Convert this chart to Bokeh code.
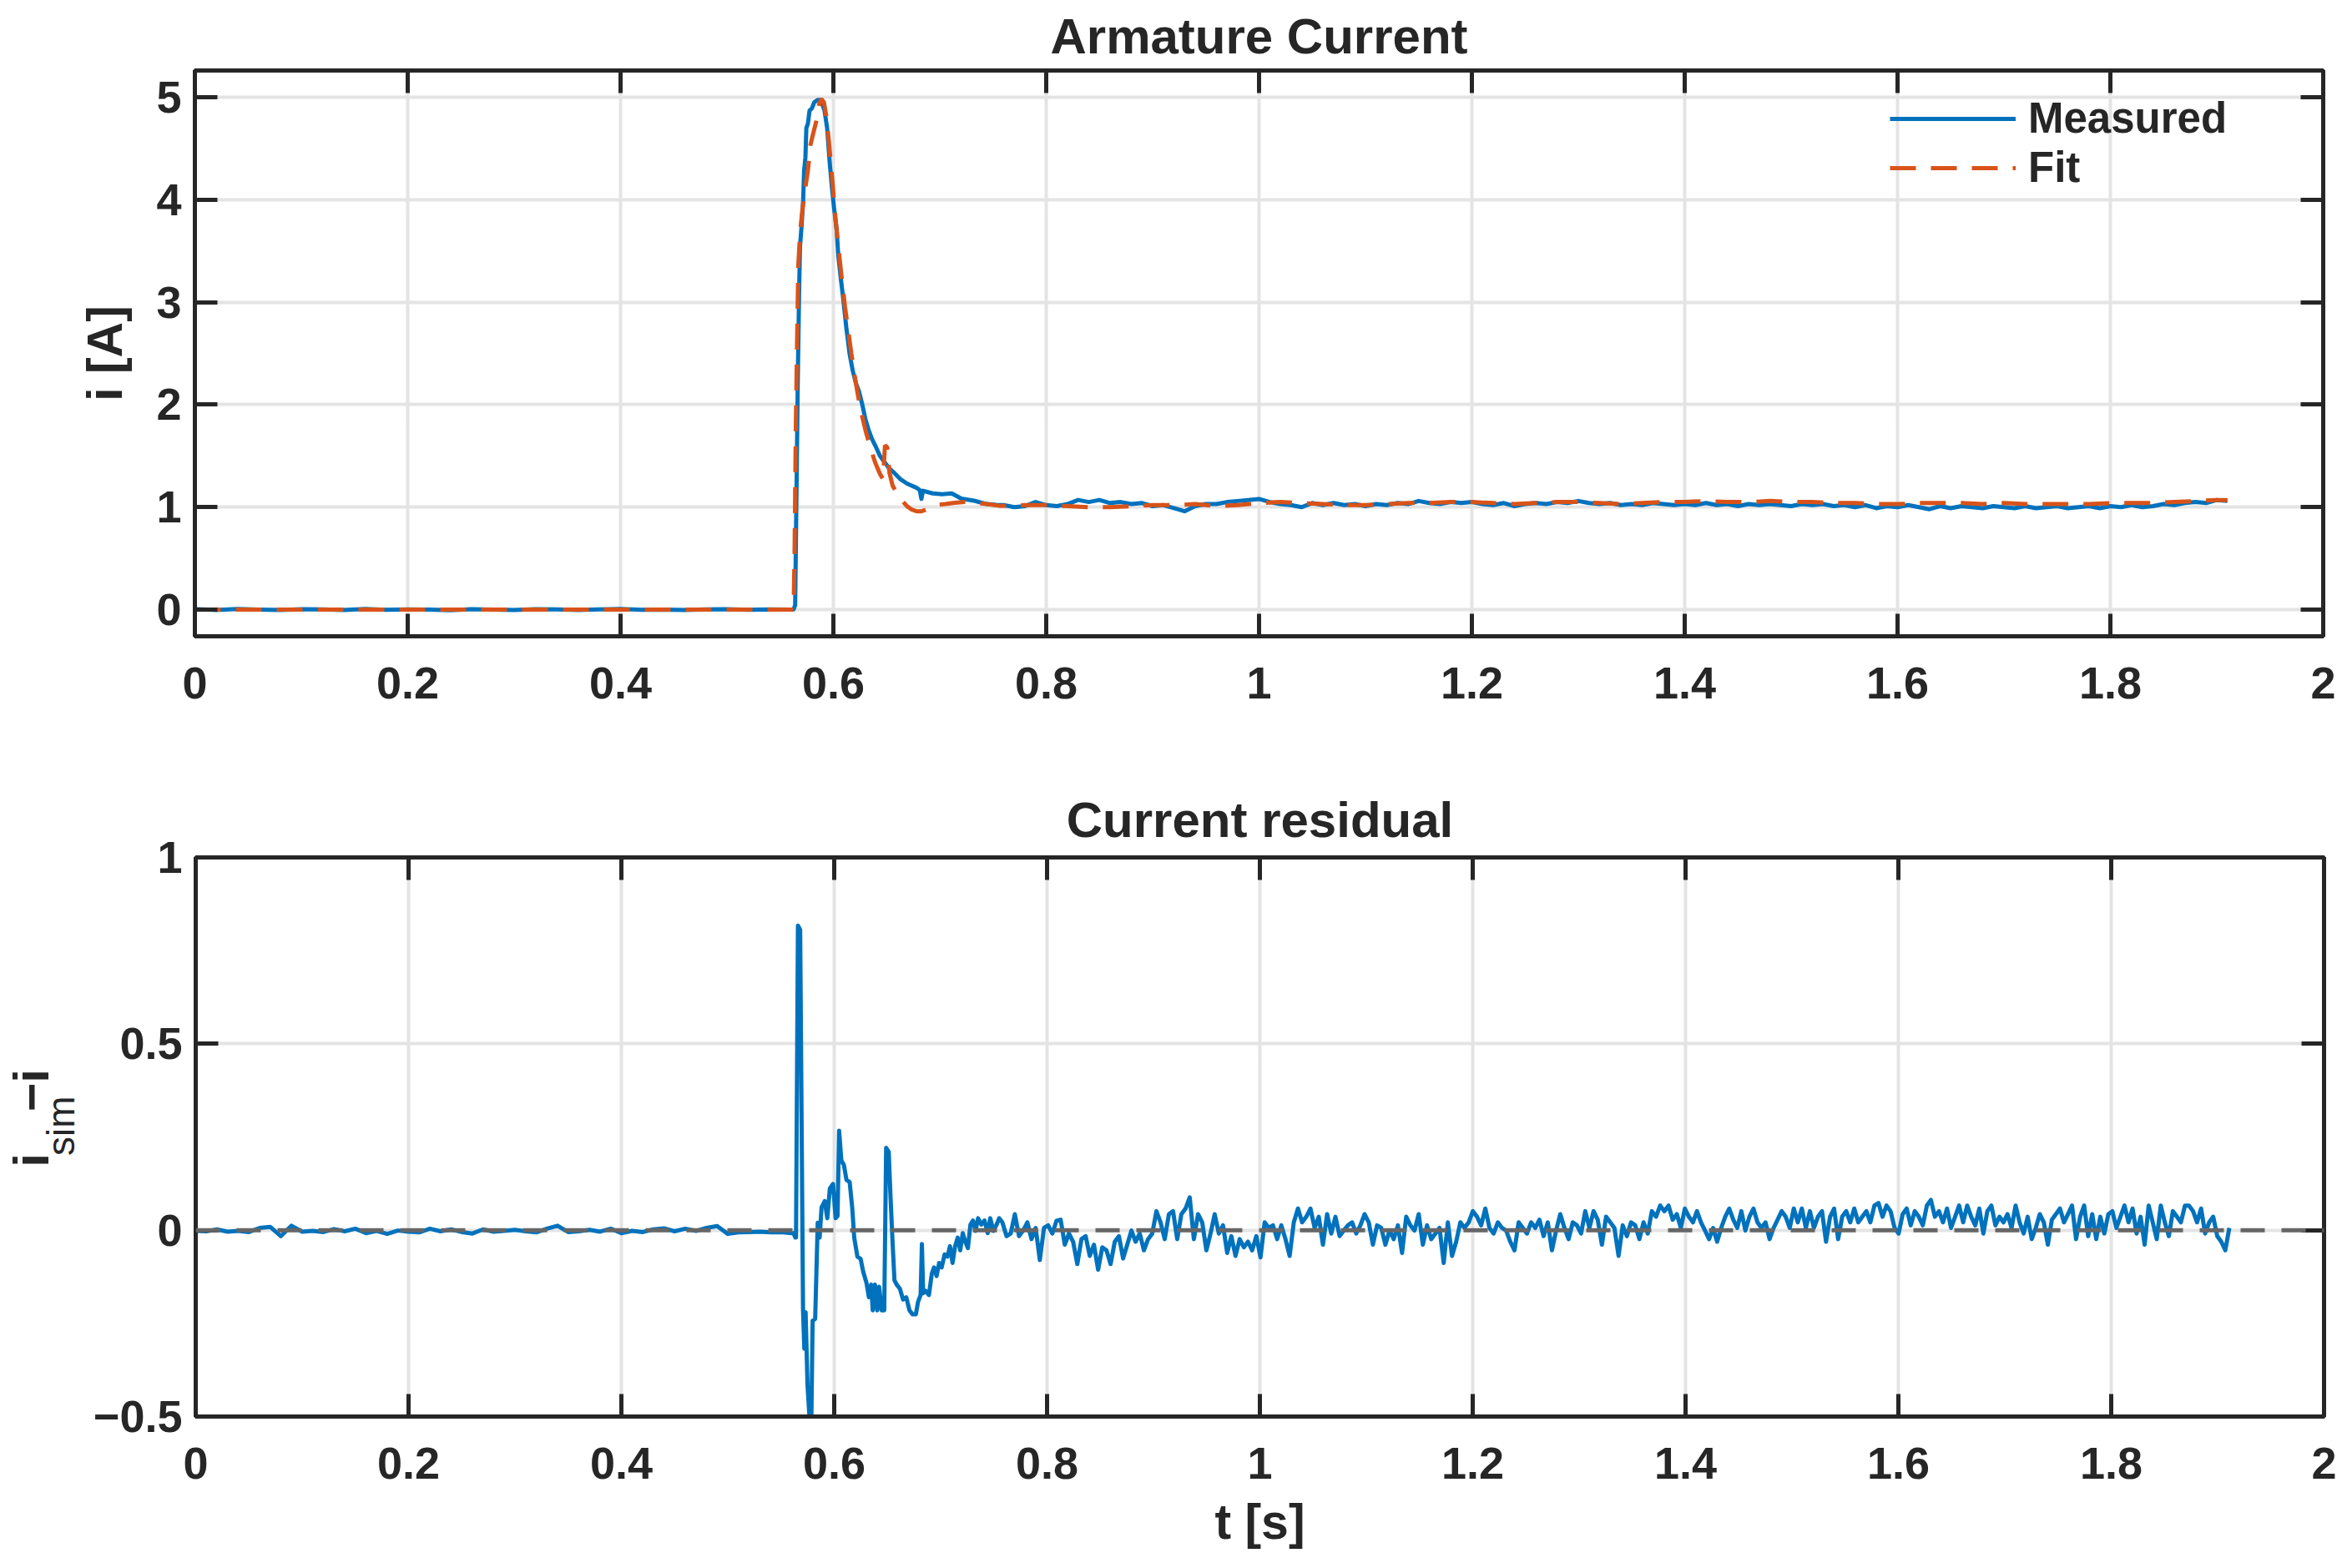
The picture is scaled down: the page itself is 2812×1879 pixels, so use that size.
import numpy as np
from math import pi
from bokeh.plotting import figure
from bokeh.models import (Range1d, FixedTicker, LinearAxis, Span, Legend,
                          LegendItem, CustomJSTickFormatter)
from bokeh.core.properties import value
from bokeh.layouts import column, row
from bokeh.embed import file_html
from bokeh.resources import INLINE

# ---------------- data ----------------
x_ticks = [0, 0.2, 0.4, 0.6, 0.8, 1.0, 1.2, 1.4, 1.6, 1.8, 2.0]
y_ticks_top = [0, 1, 2, 3, 4, 5]
y_ticks_bot = [-0.5, 0, 0.5, 1]

# measured armature current
t_meas_pre = np.round(np.arange(0, 0.561, 0.02), 3)
i_meas_pre = [0.004, -0.003, 0.006, 0.0, -0.004, 0.005, 0.002, -0.003, 0.007, -0.002,
              0.003, 0.0, -0.005, 0.004, 0.001, -0.003, 0.005, 0.002, -0.004, 0.003,
              0.006, -0.002, 0.001, -0.004, 0.003, 0.005, -0.001, 0.002, 0.0]
t_meas_tr = [0.5626, 0.5641, 0.5656, 0.5665, 0.5677, 0.5686, 0.5701, 0.5716, 0.5725, 0.5737,
             0.5746, 0.5761, 0.5776, 0.5797, 0.5821, 0.5851, 0.5875, 0.5896, 0.5917, 0.5941,
             0.5965, 0.5986, 0.6007, 0.6031, 0.6046, 0.6068, 0.6092, 0.6122, 0.6152, 0.6182,
             0.6212, 0.6242, 0.6272, 0.6302, 0.6332, 0.6362, 0.6392, 0.6437, 0.6482, 0.6527,
             0.6572, 0.6632, 0.6692, 0.6782, 0.6812, 0.6827, 0.6842, 0.6932, 0.7022, 0.7112,
             0.7202, 0.7322, 0.7442, 0.7532]
i_meas_tr = [0.003, 0.045, 1.375, 2.207, 3.038, 3.537, 3.745, 3.995, 4.286, 4.41,
             4.70, 4.743, 4.868, 4.889, 4.951, 4.972, 4.972, 4.93, 4.868, 4.70,
             4.369, 4.12, 3.912, 3.704, 3.454, 3.246, 3.038, 2.747, 2.498, 2.331,
             2.207, 2.124, 1.999, 1.853, 1.749, 1.666, 1.604, 1.50, 1.438, 1.375,
             1.334, 1.271, 1.230, 1.188, 1.167, 1.08, 1.16, 1.134, 1.126, 1.134,
             1.084, 1.063, 1.03, 1.022]
t_meas_ss = np.round(np.arange(0.76, 1.9101, 0.01), 2)
i_meas_ss = [1.02, 1.00, 1.01, 1.05, 1.02, 1.01, 1.03, 1.07, 1.05, 1.07,
             1.04, 1.05, 1.03, 1.04, 1.01, 1.02, 0.99, 0.96, 1.01, 1.03,
             1.03, 1.05, 1.06, 1.07, 1.08, 1.05, 1.03, 1.02, 1.00, 1.04,
             1.02, 1.04, 1.02, 1.03, 1.01, 1.03, 1.02, 1.04, 1.03, 1.06,
             1.04, 1.03, 1.05, 1.04, 1.05, 1.03, 1.02, 1.04, 1.01, 1.03,
             1.04, 1.03, 1.05, 1.04, 1.06, 1.04, 1.03, 1.04, 1.02, 1.03,
             1.02, 1.04, 1.03, 1.02, 1.03, 1.02, 1.04, 1.02, 1.03, 1.01,
             1.03, 1.02, 1.03, 1.02, 1.01, 1.03, 1.02, 1.03, 1.01, 1.02,
             1.00, 1.02, 0.99, 1.01, 1.00, 1.02, 1.00, 0.98, 1.01, 0.99,
             1.01, 1.00, 0.99, 1.01, 1.00, 0.99, 1.01, 0.99, 1.00, 1.01,
             0.99, 1.00, 1.01, 0.99, 1.01, 1.00, 1.02, 1.00, 1.01, 1.03,
             1.02, 1.04, 1.05, 1.04, 1.07, 1.06]

# fitted (simulated) current
t_fit_pre = [0.0, 0.56]
i_fit_pre = [0.0, 0.0]
t_fit_tr = [0.5626, 0.5635, 0.5647, 0.5659, 0.5671, 0.5689, 0.571, 0.5731, 0.5761, 0.5785,
            0.5809, 0.5839, 0.5866, 0.5887, 0.5911, 0.5935, 0.5959, 0.5989, 0.6019, 0.6049,
            0.6079, 0.6109, 0.6139, 0.6169, 0.6199, 0.6229, 0.6259, 0.6302, 0.6347, 0.6392,
            0.6437, 0.6467, 0.6485, 0.6506, 0.6527, 0.6557, 0.6602, 0.6647, 0.6692, 0.6737,
            0.6782, 0.6827, 0.6872, 0.6917, 0.6977, 0.7052, 0.7142, 0.7232, 0.7322, 0.7442,
            0.7562]
i_fit_tr = [0.0, 0.54, 1.791, 2.623, 3.371, 3.704, 3.912, 4.078, 4.286, 4.536,
            4.64, 4.764, 4.93, 4.984, 4.951, 4.806, 4.556, 4.203, 3.828, 3.517,
            3.226, 2.955, 2.727, 2.498, 2.29, 2.103, 1.937, 1.749, 1.583, 1.438,
            1.325, 1.271, 1.604, 1.583, 1.334, 1.209, 1.126, 1.063, 1.009, 0.976,
            0.959, 0.959, 0.976, 1.001, 1.022, 1.03, 1.043, 1.051, 1.043, 1.03,
            1.013]
t_fit_ss = list(np.round(np.arange(0.78, 1.9001, 0.02), 2)) + [1.91]
i_fit_ss = [1.02, 1.02, 1.01, 1.00, 1.00, 1.01, 1.02, 1.02, 1.03, 1.01,
            1.02, 1.04, 1.05, 1.04, 1.03, 1.02, 1.02, 1.03, 1.04, 1.04,
            1.05, 1.05, 1.04, 1.03, 1.04, 1.05, 1.05, 1.04, 1.03, 1.04,
            1.05, 1.05, 1.06, 1.05, 1.05, 1.06, 1.05, 1.05, 1.04, 1.04,
            1.03, 1.03, 1.04, 1.04, 1.04, 1.03, 1.04, 1.03, 1.03, 1.03,
            1.03, 1.04, 1.04, 1.04, 1.05, 1.06, 1.07, 1.07]

# current residual i_sim - i
t_res_pre = np.round(np.arange(0, 0.561, 0.01), 3)
res_pre = [-0.002, -0.003, 0.002, -0.004, -0.002, -0.005, 0.006, 0.009, -0.016, 0.012,
           -0.004, -0.002, -0.005, 0.003, -0.003, 0.004, -0.008, -0.002, -0.010, -0.001,
           -0.004, -0.006, 0.004, -0.003, 0.002, -0.005, -0.009, 0.002, -0.004, -0.002,
           0.001, -0.003, -0.006, 0.004, 0.012, -0.005, -0.003, 0.001, -0.004, 0.004,
           -0.008, -0.002, -0.005, 0.002, 0.005, -0.003, 0.004, -0.002, 0.006, 0.011,
           -0.010, -0.006, -0.005, -0.004, -0.006, -0.005, -0.008]
t_res_tr = [0.5617, 0.5635, 0.5641, 0.5659, 0.568, 0.5707, 0.5719, 0.5731, 0.5749, 0.577,
            0.5785, 0.5797, 0.5821, 0.5845, 0.5863, 0.5881, 0.5911, 0.5935, 0.5959, 0.5989,
            0.6013, 0.6031, 0.6046, 0.6067, 0.6091, 0.6115, 0.6145, 0.6169, 0.6188, 0.6218,
            0.6248, 0.6272, 0.6302, 0.6326, 0.6347, 0.6362, 0.6383, 0.6404, 0.6422, 0.6446,
            0.647, 0.6488, 0.6512, 0.653, 0.6548, 0.6566, 0.6587, 0.6617, 0.6647, 0.6677,
            0.6707, 0.6737, 0.6767, 0.6788, 0.6812, 0.6824, 0.6836, 0.686, 0.689, 0.6917,
            0.6938, 0.6962, 0.6986, 0.701, 0.7037, 0.7064, 0.7088, 0.7112, 0.7136, 0.716,
            0.7184, 0.7208, 0.7232, 0.7256, 0.728, 0.7304, 0.7328, 0.7352, 0.7382, 0.7412,
            0.7442, 0.7466, 0.7496, 0.7526, 0.755]
res_tr = [-0.008, -0.020, -0.020, 0.817, 0.806, -0.215, -0.318, -0.220, -0.415, -0.513,
          -0.513, -0.243, -0.238, 0.020, -0.020, 0.061, 0.078, 0.032, 0.112, 0.124,
          0.032, 0.038, 0.267, 0.187, 0.175, 0.135, 0.129, 0.061, -0.020, -0.071,
          -0.077, -0.111, -0.140, -0.180, -0.146, -0.215, -0.146, -0.215, -0.152, -0.215,
          -0.215, 0.221, 0.210, 0.084, -0.031, -0.134, -0.146, -0.157, -0.186, -0.180,
          -0.215, -0.226, -0.226, -0.192, -0.174, -0.037, -0.169, -0.163, -0.174, -0.117,
          -0.100, -0.123, -0.088, -0.100, -0.065, -0.071, -0.043, -0.088, -0.043, -0.020,
          -0.054, -0.008, -0.031, -0.048, 0.015, 0.026, -0.002, 0.032, 0.015, 0.026,
          -0.008, 0.032, -0.002, 0.015, 0.032]
res_mid = [0.021, -0.016, -0.009, 0.043, -0.016, -0.001, 0.021, -0.024, 0.006, -0.080,
           0.006, 0.013, -0.009, 0.025, 0.028, -0.039, -0.009, -0.031, -0.091, -0.024,
           -0.016, -0.069, -0.039, -0.106, -0.046, -0.054, -0.091, -0.031, -0.016, -0.076,
           -0.039, -0.001, -0.031, -0.009, -0.054, -0.024, -0.009, 0.051, 0.021, -0.024,
           0.043, 0.051, -0.024, 0.043, 0.058, 0.088, -0.024, 0.043, 0.021, -0.054,
           -0.009, 0.043, -0.009, 0.013, -0.061, -0.016, -0.069, -0.024, -0.046, -0.031,
           -0.054, -0.016, -0.073, 0.021, 0.006, 0.013, -0.024, 0.013, -0.024, -0.069,
           0.021, 0.058, 0.021, 0.036, 0.058, 0.006, 0.036, -0.039, 0.043, -0.009,
           0.036, -0.016, -0.001, 0.013, 0.021, -0.009, 0.013, 0.043, 0.021, -0.039,
           0.013, 0.006, -0.039, -0.001, -0.024, 0.013, -0.061, 0.036, 0.013, -0.001,
           0.043, -0.039, 0.013, -0.024, -0.009, 0.006, -0.088, 0.021, -0.069, -0.031,
           0.021, 0.006, 0.021, 0.051, 0.036, 0.013, 0.058, 0.006, -0.009, 0.021,
           0.006, -0.001, -0.031, -0.054, 0.021, 0.006, -0.009, 0.021, 0.006, 0.028,
           -0.016, 0.021, -0.054, -0.001, 0.043, 0.006, -0.024, 0.021, 0.013, -0.009,
           0.051, 0.006, 0.051, 0.028, -0.039, 0.036, 0.021, 0.006, -0.069, 0.013,
           -0.016, 0.021, 0.013, -0.024, 0.021, -0.009, 0.051, 0.036, 0.066, 0.051,
           0.066]
t_res_mid = np.linspace(0.758, 1.384, len(res_mid))
res_end = [0.028, 0.043, 0.006, 0.058, 0.036, 0.021, 0.051, 0.021, -0.001, -0.024,
           0.006, -0.031, 0.006, 0.036, 0.058, 0.028, 0.006, 0.051, -0.001, 0.036,
           0.058, 0.021, 0.006, 0.021, -0.024, 0.006, 0.028, 0.051, 0.036, 0.006,
           0.058, 0.021, 0.058, 0.006, 0.051, 0.006, 0.036, 0.051, -0.031, 0.036,
           0.058, -0.024, 0.036, 0.051, 0.021, 0.058, 0.021, 0.036, 0.051, 0.021,
           0.066, 0.073, 0.036, 0.066, 0.051, 0.006, -0.009, 0.043, 0.058, 0.013,
           0.051, 0.036, 0.013, 0.066, 0.081, 0.036, 0.051, 0.021, 0.058, 0.006,
           0.036, 0.066, 0.021, 0.066, 0.036, 0.013, 0.058, -0.009, 0.051, 0.066,
           0.013, 0.036, 0.021, 0.043, 0.006, 0.066, 0.021, -0.009, 0.036, -0.024,
           0.006, 0.043, 0.021, -0.039, 0.028, 0.043, 0.058, 0.021, 0.043, 0.066,
           -0.024, 0.036, 0.066, -0.016, 0.043, -0.024, 0.036, -0.009, 0.043, 0.051,
           0.006, 0.036, 0.066, 0.021, 0.058, -0.009, 0.036, -0.039, 0.066, 0.021,
           -0.024, 0.066, 0.021, -0.016, 0.051, 0.036, 0.021, 0.066, 0.066, 0.051,
           0.021, 0.058, -0.009, 0.021, 0.036, -0.016, -0.031, -0.054, 0.006]
t_res_end = np.linspace(1.388, 1.911, len(res_end))

t_meas = np.concatenate([t_meas_pre, t_meas_tr, t_meas_ss])
i_meas = np.concatenate([i_meas_pre, i_meas_tr, i_meas_ss])
t_fit = np.concatenate([t_fit_pre, t_fit_tr, t_fit_ss])
i_fit = np.concatenate([i_fit_pre, i_fit_tr, i_fit_ss])
t_res = np.concatenate([t_res_pre, t_res_tr, t_res_mid, t_res_end])
res = np.concatenate([res_pre, res_tr, res_mid, res_end])

# ---------------- styling ----------------
TXT = "#262626"
BLUE = "#0072BD"
ORANGE = "#D95319"
GRID = "#e4e4e4"
FONT = "Liberation Sans"
TICK_FS = "54px"
LAB_FS = "59px"

fmt = CustomJSTickFormatter(code="""
let v = Math.abs(tick) < 1e-9 ? 0 : tick;
let s = v.toFixed(1);
if (s.endsWith('.0')) { s = s.slice(0, -2); }
return s.replace('-', '\u2212');
""")


def box_axis(ticks):
    return LinearAxis(ticker=FixedTicker(ticks=ticks), major_label_text_font_size="1px",
                      major_label_text_color=None, major_label_standoff=0,
                      axis_line_color=TXT, axis_line_width=5,
                      major_tick_line_color=TXT, major_tick_line_width=5,
                      major_tick_in=27, major_tick_out=0, minor_tick_line_color=None)


def make_fig(title, yr, yticks, left_border, top_border, bottom_border, fh, title_standoff):
    p = figure(frame_width=2550, frame_height=fh,
               x_range=Range1d(0, 2), y_range=Range1d(*yr),
               output_backend="svg", toolbar_location=None,
               min_border_left=left_border, min_border_right=27,
               min_border_top=top_border, min_border_bottom=bottom_border,
               title=title)
    p.background_fill_color = "white"
    p.border_fill_color = "white"
    p.outline_line_color = TXT
    p.outline_line_width = 5
    p.title.align = "center"
    p.title.text_font = FONT
    p.title.text_font_size = "60px"
    p.title.text_font_style = "bold"
    p.title.text_color = TXT
    p.title.standoff = title_standoff

    xa = p.below[0]
    ya = p.left[0]
    xa.ticker = FixedTicker(ticks=x_ticks)
    ya.ticker = FixedTicker(ticks=yticks)
    p.xgrid.ticker = FixedTicker(ticks=x_ticks)
    p.ygrid.ticker = FixedTicker(ticks=yticks)
    for g in (p.xgrid, p.ygrid):
        g.grid_line_color = GRID
        g.grid_line_width = 4

    for ax in (xa, ya):
        ax.formatter = fmt
        ax.axis_line_color = TXT
        ax.axis_line_width = 5
        ax.major_tick_line_color = TXT
        ax.major_tick_line_width = 5
        ax.major_tick_in = 27
        ax.major_tick_out = 0
        ax.minor_tick_line_color = None
        ax.major_label_text_font = FONT
        ax.major_label_text_font_size = TICK_FS
        ax.major_label_text_font_style = "bold"
        ax.major_label_text_color = TXT
        ax.axis_label_text_font = FONT
        ax.axis_label_text_font_size = LAB_FS
        ax.axis_label_text_font_style = "bold"
        ax.axis_label_text_color = TXT
    xa.major_label_standoff = 37
    ya.major_label_standoff = 16

    # box ticks on top and right (no labels)
    p.add_layout(box_axis(x_ticks), "above")
    p.add_layout(box_axis(yticks), "right")
    return p, xa, ya


# ---------------- top: armature current ----------------
p1, xa1, ya1 = make_fig("Armature Current", (-0.26, 5.26), y_ticks_top, 233, 84, 138, 678, 15)
ya1.axis_label = "i [A]"
ya1.axis_label_standoff = 25
r_meas = p1.line(t_meas, i_meas, line_color=BLUE, line_width=5, line_join="round")
r_fit = p1.line(t_fit, i_fit, line_color=ORANGE, line_width=5, line_dash="31 18")

legend = Legend(items=[LegendItem(label="Measured", renderers=[r_meas]),
                       LegendItem(label="Fit", renderers=[r_fit])],
                location=(2031, 532))
legend.label_text_font = FONT
legend.label_text_font_size = "51px"
legend.label_text_font_style = "bold"
legend.label_text_color = TXT
legend.glyph_width = 151
legend.glyph_height = 50
legend.label_height = 50
legend.label_standoff = 15
legend.spacing = 0
legend.padding = 0
legend.margin = 0
legend.background_fill_alpha = 0
legend.border_line_alpha = 0
p1.add_layout(legend)

# ---------------- bottom: current residual ----------------
LAB_W = 108
FIG2_H = 127 + 670 + 180
p2, xa2, ya2 = make_fig("Current residual", (-0.5, 1.0), y_ticks_bot, 233 - LAB_W, 127, 180, 670, 23)
xa2.axis_label = "t [s]"
xa2.axis_label_standoff = 16
p2.line(t_res, res, line_color=BLUE, line_width=5, line_join="round")
p2.add_layout(Span(location=0, dimension="width", line_color="#666666",
                   line_width=5, line_dash="29 20"))

# y-axis label "i_sim − i" of the residual panel (with subscript), drawn in a
# narrow label strip at the left of the panel (pixel coordinates, centred pieces)
pl = figure(width=LAB_W, height=FIG2_H, x_range=Range1d(0, LAB_W), y_range=Range1d(0, FIG2_H),
            output_backend="svg", toolbar_location=None, min_border=0)
pl.axis.visible = False
pl.grid.visible = False
pl.outline_line_color = None
pl.background_fill_color = "white"
pl.border_fill_color = "white"
common = dict(angle=pi / 2, text_color=TXT, text_align="center",
              text_baseline="middle", text_font=value(FONT))
pl.text(x=[37], y=[448], text=["i"], text_font_size=LAB_FS, text_font_style="bold", **common)
pl.text(x=[72], y=[508], text=["sim"], text_font_size="46px", text_font_style="normal", **common)
pl.text(x=[37], y=[570], text=["\u2212i"], text_font_size=LAB_FS, text_font_style="bold", **common)

layout = column(p1, row(pl, p2, spacing=0), spacing=0)
open("out.html", "w").write(file_html(layout, INLINE))
